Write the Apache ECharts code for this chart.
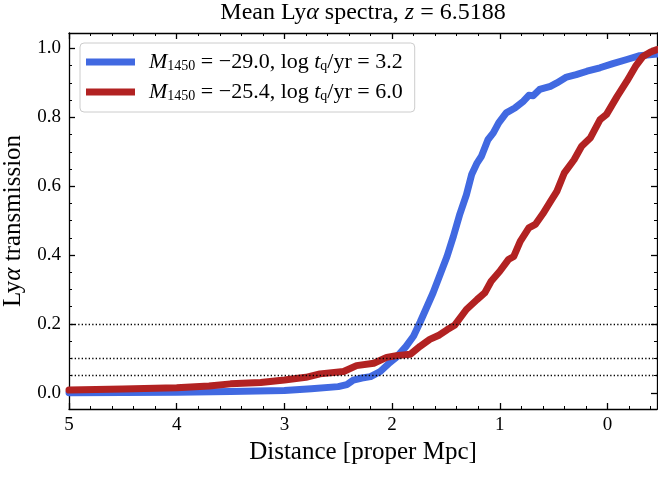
<!DOCTYPE html>
<html><head><meta charset="utf-8">
<script src="https://cdn.jsdelivr.net/npm/echarts@6/dist/echarts.min.js"></script>
<style>html,body{margin:0;padding:0;background:#fff}#c{width:658px;height:477px}</style>
</head><body><div id="c"></div>
<script>
// ---- data ----
const blueName = 'M1450 = -29.0, log tq/yr = 3.2';
const redName = 'M1450 = -25.4, log tq/yr = 6.0';
const blueX = [5.0, 4.5, 4.0, 3.5, 3.0, 2.75, 2.5, 2.42, 2.36, 2.28, 2.2, 2.11, 2.02, 1.96, 1.87, 1.8, 1.74, 1.62, 1.49, 1.43, 1.37, 1.31, 1.26, 1.21, 1.17, 1.11, 1.06, 1.01, 0.94, 0.86, 0.78, 0.73, 0.69, 0.63, 0.53, 0.47, 0.38, 0.29, 0.19, 0.07, -0.05, -0.18, -0.30, -0.46];
const blueY = [0.0, 0.001, 0.002, 0.004, 0.007, 0.012, 0.018, 0.024, 0.037, 0.043, 0.047, 0.062, 0.088, 0.103, 0.135, 0.165, 0.205, 0.29, 0.396, 0.455, 0.52, 0.575, 0.635, 0.668, 0.687, 0.735, 0.755, 0.784, 0.813, 0.827, 0.847, 0.864, 0.863, 0.881, 0.89, 0.90, 0.917, 0.924, 0.934, 0.944, 0.956, 0.968, 0.979, 0.984];
const redX = [5.0, 4.5, 4.0, 3.7, 3.5, 3.22, 3.0, 2.8, 2.67, 2.45, 2.33, 2.17, 2.05, 1.96, 1.83, 1.74, 1.65, 1.56, 1.49, 1.42, 1.31, 1.21, 1.14, 1.08, 1.0, 0.92, 0.87, 0.81, 0.73, 0.67, 0.60, 0.53, 0.47, 0.40, 0.31, 0.24, 0.16, 0.07, 0.01, -0.09, -0.18, -0.26, -0.33, -0.40, -0.46];
const redY = [0.008, 0.011, 0.015, 0.02, 0.026, 0.03, 0.037, 0.045, 0.055, 0.062, 0.079, 0.086, 0.103, 0.108, 0.112, 0.135, 0.155, 0.168, 0.183, 0.196, 0.242, 0.271, 0.29, 0.324, 0.353, 0.387, 0.396, 0.44, 0.479, 0.489, 0.52, 0.555, 0.585, 0.639, 0.677, 0.716, 0.74, 0.793, 0.808, 0.861, 0.905, 0.948, 0.977, 0.99, 0.997];
const refLevels = [0.2, 0.1, 0.05];
const xMajor = [0, 1, 2, 3, 4, 5];
const xMinor = [-0.4, -0.2, 0.2, 0.4, 0.6, 0.8, 1.2, 1.4, 1.6, 1.8, 2.2, 2.4, 2.6, 2.8, 3.2, 3.4, 3.6, 3.8, 4.2, 4.4, 4.6, 4.8];
const yMajor = [0, 0.2, 0.4, 0.6, 0.8, 1.0];
const yMinor = [0.05, 0.1, 0.15, 0.25, 0.3, 0.35, 0.45, 0.5, 0.55, 0.65, 0.7, 0.75, 0.85, 0.9, 0.95];
const X_MIN = -0.46, X_MAX = 5;
const Y_MIN = -0.047, Y_MAX = 1.045;

// ---- styling ----
const FONT = 'Liberation Serif';
const BLACK = '#000';
function mkAxis(kind, pos, ticks, len, w, withLabel, withLine) {
  return {
    type: 'value', position: pos, min: kind === 'x' ? X_MIN : Y_MIN, max: kind === 'x' ? X_MAX : Y_MAX,
    inverse: kind === 'x',
    axisLine: { show: withLine, onZero: false, lineStyle: { color: BLACK, width: 1.3 } },
    axisTick: { show: true, inside: true, length: len, customValues: ticks, lineStyle: { color: BLACK, width: w } },
    axisLabel: withLabel ? { show: true, customValues: ticks, margin: kind === 'x' ? 7 : 8, color: BLACK, fontFamily: FONT, fontSize: 19,
      formatter: v => kind === 'x' ? String(v) : v.toFixed(1) } : { show: false },
    splitLine: { show: false }, minorTick: { show: false }, minorSplitLine: { show: false }
  };
}
const xAxes = [
  mkAxis('x', 'bottom', xMajor, 6, 1.3, true, true),
  mkAxis('x', 'bottom', xMinor, 3, 1, false, false),
  mkAxis('x', 'top', xMajor, 6, 1.3, false, true),
  mkAxis('x', 'top', xMinor, 3, 1, false, false)
];
Object.assign(xAxes[0], {
  name: 'Distance [proper Mpc]', nameLocation: 'middle', nameGap: 31,
  nameTextStyle: { fontFamily: FONT, fontSize: 25, color: BLACK }
});
const yAxes = [
  mkAxis('y', 'left', yMajor, 6, 1.3, true, true),
  mkAxis('y', 'left', yMinor, 3, 1, false, false),
  mkAxis('y', 'right', yMajor, 6, 1.3, false, true),
  mkAxis('y', 'right', yMinor, 3, 1, false, false)
];
Object.assign(yAxes[0], {
  name: 'Ly{i|α} transmission', nameLocation: 'middle', nameGap: 36,
  nameTextStyle: { fontFamily: FONT, fontSize: 25, color: BLACK,
    rich: { i: { fontFamily: FONT, fontSize: 25, fontStyle: 'italic', color: BLACK } } }
});

const legendRich = {
  i: { fontFamily: FONT, fontSize: 22, fontStyle: 'italic', color: BLACK, lineHeight: 22, verticalAlign: 'middle' },
  r: { fontFamily: FONT, fontSize: 22, color: BLACK, lineHeight: 22, verticalAlign: 'middle' },
  s: { fontFamily: FONT, fontSize: 14, color: BLACK, lineHeight: 14, verticalAlign: 'bottom' }
};
const legendLabels = {};
legendLabels[blueName] = '{i|M}{s|1450}{r| = −29.0, log }{i|t}{s|q}{r|/yr = 3.2}';
legendLabels[redName] = '{i|M}{s|1450}{r| = −25.4, log }{i|t}{s|q}{r|/yr = 6.0}';

const chart = echarts.init(document.getElementById('c'), null, { renderer: 'canvas' });
chart.setOption({
  animation: false,
  backgroundColor: '#fff',
  title: {
    text: 'Mean Ly{i|α} spectra, {i|z} = 6.5188', left: 363, top: 1, textAlign: 'center', padding: 0,
    textStyle: { fontFamily: FONT, fontSize: 24, fontWeight: 'normal', color: BLACK,
      rich: { i: { fontFamily: FONT, fontSize: 24, fontStyle: 'italic', color: BLACK } } }
  },
  grid: { left: 69, right: 1, top: 33, bottom: 68, containLabel: false, outerBoundsMode: 'none' },
  legend: {
    data: [blueName, redName], orient: 'vertical', left: 80, top: 43,
    padding: [8, 12, 9, 6], itemWidth: 49, itemHeight: 7, itemGap: 8, icon: 'rect',
    borderColor: '#cccccc', borderWidth: 1, borderRadius: 4, backgroundColor: 'rgba(255,255,255,0.8)',
    formatter: n => legendLabels[n],
    textStyle: { fontFamily: FONT, fontSize: 22, color: BLACK, lineHeight: 22, padding: [0, 0, 0, 9], rich: legendRich }
  },
  xAxis: xAxes,
  yAxis: yAxes,
  series: [
    {
      name: 'ref', type: 'line', data: [], z: 1, silent: true,
      markLine: {
        silent: true, symbol: 'none', label: { show: false }, animation: false,
        lineStyle: { color: BLACK, type: [1.3, 2.2], width: 1.3 },
        data: refLevels.map(v => ({ yAxis: v }))
      }
    },
    {
      name: blueName, type: 'line', showSymbol: false, z: 3, color: '#4169e1',
      lineStyle: { width: 7, color: '#4169e1', cap: 'round', join: 'round' },
      data: blueX.map((x, i) => [x, blueY[i]])
    },
    {
      name: redName, type: 'line', showSymbol: false, z: 4, color: '#b22222',
      lineStyle: { width: 7, color: '#b22222', cap: 'round', join: 'round' },
      data: redX.map((x, i) => [x, redY[i]])
    }
  ]
});
</script></body></html>
